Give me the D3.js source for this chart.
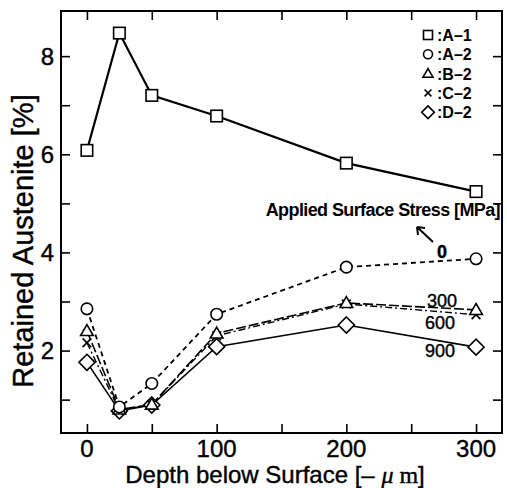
<!DOCTYPE html>
<html>
<head>
<meta charset="utf-8">
<script src="https://cdn.jsdelivr.net/npm/d3@7"></script>
<style>
  body { margin: 0; background: #fff; }
  svg { display: block; font-family: "Liberation Sans", Arial, sans-serif; }
  .heavy { stroke: #000; stroke-width: 0.4px; }
</style>
</head>
<body>
<div id="chart"></div>
<script>
// data
var depths = [0, 25, 50, 100, 200, 300];
var a1 = [6.08, 8.47, 7.2, 6.78, 5.82, 5.24];
var a2 = [2.85, 0.85, 1.33, 2.74, 3.7, 3.87];
var b2 = [2.4, 0.8, 0.9, 2.35, 2.97, 2.83];
var c2 = [2.16, 0.78, 0.9, 2.3, 2.95, 2.73];
var d2 = [1.76, 0.77, 0.89, 2.08, 2.52, 2.07];
var seriesNames = [":A\u20131", ":A\u20132", ":B\u20132", ":C\u20132", ":D\u20132"];
var stressLabels = ["0", "300", "600", "900"];
var xTicks = [0, 100, 200, 300];
var yTicks = [2, 4, 6, 8];

// chart size
var width = 507, height = 488;
var margin = {top: 11, right: 5, bottom: 55, left: 61};
var iw = width - margin.left - margin.right,
    ih = height - margin.top - margin.bottom;

var svg = d3.select('#chart')
  .append('svg')
    .attr('width', width)
    .attr('height', height);

var g = svg.append('g')
  .attr('transform', 'translate(' + margin.left + ',' + margin.top + ')');

var x = d3.scaleLinear().domain([-20, 320]).range([0, iw]);
var y = d3.scaleLinear().domain([0.32, 8.92]).range([ih, 0]);

// axes, ticks pointing inward on all four sides
var tk = 9;
g.append('g')
  .attr('transform', 'translate(0,' + ih + ')')
  .call(d3.axisBottom(x).tickValues(d3.range(0, 301, 50)).tickSize(-tk).tickFormat(''));
g.append('g')
  .call(d3.axisTop(x).tickValues(d3.range(0, 301, 50)).tickSize(-tk).tickFormat(''));
g.append('g')
  .call(d3.axisLeft(y).tickValues(d3.range(1, 9)).tickSize(-tk).tickFormat(''));
g.append('g')
  .attr('transform', 'translate(' + iw + ',0)')
  .call(d3.axisRight(y).tickValues(d3.range(1, 9)).tickSize(-tk).tickFormat(''));
g.selectAll('.domain').remove();
g.selectAll('.tick line').attr('stroke', '#000').attr('stroke-width', 1.6);

g.append('rect')
  .attr('width', iw).attr('height', ih)
  .attr('fill', 'none').attr('stroke', '#000').attr('stroke-width', 2);

// tick labels
g.selectAll('.xlab')
  .data(xTicks)
  .enter().append('text')
    .attr('class', 'heavy')
    .attr('x', function(d) { return x(d); })
    .attr('y', ih + 24)
    .attr('text-anchor', 'middle')
    .style('font-size', '24px')
    .text(function(d) { return d; });

g.selectAll('.ylab')
  .data(yTicks)
  .enter().append('text')
    .attr('class', 'heavy')
    .attr('x', -7)
    .attr('y', function(d) { return y(d) + 8.5; })
    .attr('text-anchor', 'end')
    .style('font-size', '24px')
    .text(function(d) { return d; });

// axis titles
var xt = svg.append('text')
  .attr('class', 'heavy')
  .attr('x', 275)
  .attr('y', 483)
  .attr('text-anchor', 'middle')
  .style('font-size', '24px');
xt.append('tspan').text('Depth below Surface [\u2013 ');
xt.append('tspan').style('font-family', '"Liberation Serif", serif').style('font-style', 'italic').text('\u03bc');
xt.append('tspan').style('font-family', '"Liberation Serif", serif').text(' m');
xt.append('tspan').text(']');

svg.append('text')
  .attr('class', 'heavy')
  .attr('transform', 'translate(33,241) rotate(-90)')
  .attr('text-anchor', 'middle')
  .style('font-size', '29px')
  .text('Retained Austenite [%]');

// series
var series = [
  {vals: a1, dash: null, w: 2.2, mark: 'square'},
  {vals: a2, dash: '5,4', w: 1.8, mark: 'circle'},
  {vals: b2, dash: '10,3', w: 1.6, mark: 'triangle'},
  {vals: c2, dash: '7,3,2,3', w: 1.4, mark: 'cross'},
  {vals: d2, dash: null, w: 1.6, mark: 'diamond'}
];

var line = d3.line()
  .x(function(d) { return x(d[0]); })
  .y(function(d) { return y(d[1]); });

function marker(sel, type, s) {
  if (type === 'square') {
    sel.append('rect').attr('x', -s / 2).attr('y', -s / 2).attr('width', s).attr('height', s);
  } else if (type === 'circle') {
    sel.append('circle').attr('r', s / 2);
  } else if (type === 'triangle') {
    sel.append('path').attr('d', 'M0,' + (-s * 0.55) + 'L' + (s * 0.55) + ',' + (s * 0.4) + 'L' + (-s * 0.55) + ',' + (s * 0.4) + 'Z');
  } else if (type === 'cross') {
    var h = s * 0.38;
    sel.append('path').attr('d', 'M' + (-h) + ',' + (-h) + 'L' + h + ',' + h + 'M' + h + ',' + (-h) + 'L' + (-h) + ',' + h);
  } else if (type === 'diamond') {
    var r = s * 0.7;
    sel.append('path').attr('d', 'M0,' + (-r) + 'L' + r + ',0L0,' + r + 'L' + (-r) + ',0Z');
  }
  sel.selectAll('*').attr('fill', '#fff').attr('stroke', '#000').attr('stroke-width', 1.6);
}

series.forEach(function(s) {
  var pts = depths.map(function(d, i) { return [d, s.vals[i]]; });
  g.append('path')
    .datum(pts)
    .attr('d', line)
    .attr('fill', 'none')
    .attr('stroke', '#000')
    .attr('stroke-width', s.w)
    .attr('stroke-dasharray', s.dash);
});

series.slice().reverse().forEach(function(s) {
  depths.forEach(function(d, i) {
    var m = g.append('g').attr('transform', 'translate(' + x(d) + ',' + y(s.vals[i]) + ')');
    marker(m, s.mark, 11.5);
  });
});

// legend
var legend = svg.append('g');
seriesNames.forEach(function(name, i) {
  var cy = 35 + i * 19.3;
  var m = legend.append('g').attr('transform', 'translate(428,' + cy + ')');
  marker(m, series[i].mark, 9);
  legend.append('text')
    .attr('x', 437)
    .attr('y', cy + 6)
    .style('font-size', '16px')
    .style('font-weight', 'bold')
    .text(name);
});

// applied stress annotation
svg.append('text')
  .attr('x', 500)
  .attr('y', 216)
  .attr('text-anchor', 'end')
  .style('font-size', '18px')
  .style('font-weight', 'bold')
  .style('letter-spacing', '-0.6px')
  .text('Applied Surface Stress [MPa]');

svg.append('path')
  .attr('d', 'M433,242L417,227M417,227L418,235M417,227L425,228')
  .attr('fill', 'none')
  .attr('stroke', '#000')
  .attr('stroke-width', 2);

var stressPos = [[442, 258], [442, 307], [440, 329], [440, 357]];
stressLabels.forEach(function(t, i) {
  svg.append('text')
    .attr('class', 'heavy')
    .attr('x', stressPos[i][0])
    .attr('y', stressPos[i][1])
    .attr('text-anchor', 'middle')
    .style('font-size', '18px')
    .style('font-weight', i === 0 ? 'bold' : 'normal')
    .text(t);
});
</script>
</body>
</html>
